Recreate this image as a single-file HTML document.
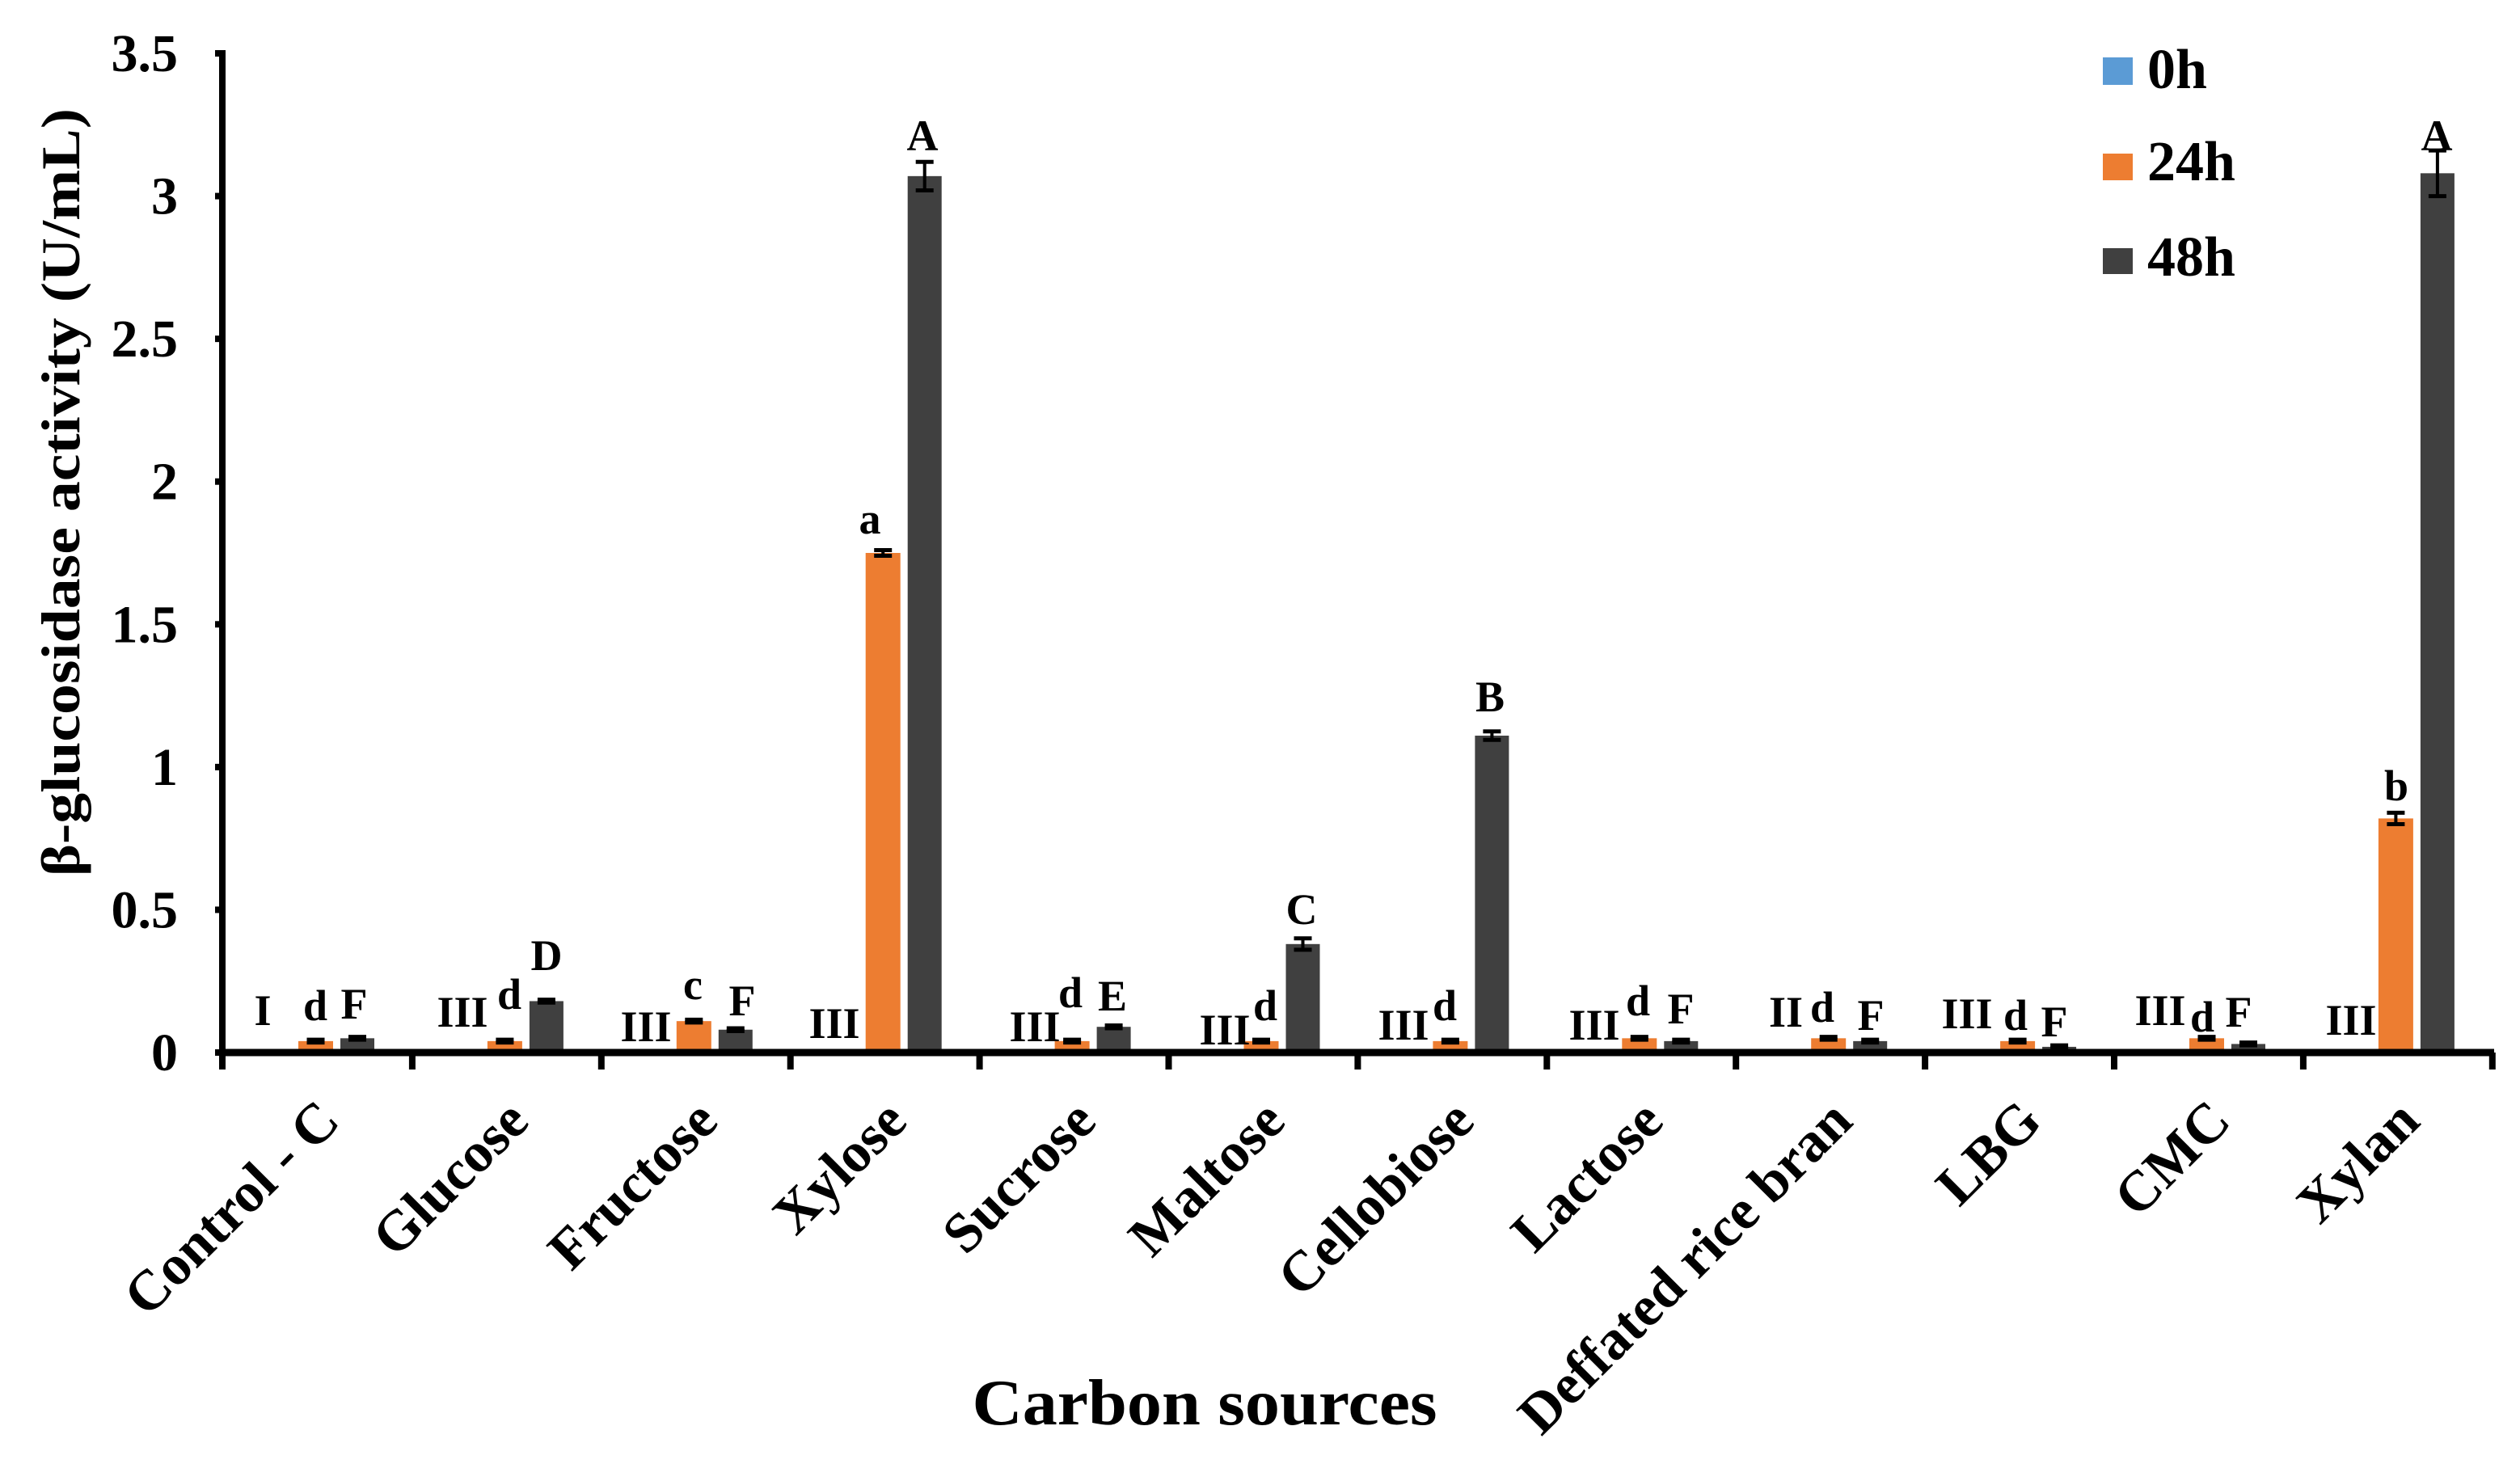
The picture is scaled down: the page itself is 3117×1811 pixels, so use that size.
<!DOCTYPE html>
<html><head><meta charset="utf-8"><style>
html,body{margin:0;padding:0;background:#fff;}
svg{display:block;}
text{font-family:"Liberation Serif",serif;font-weight:bold;fill:#000;}
</style></head><body>
<svg width="3117" height="1811" viewBox="0 0 3117 1811" xmlns="http://www.w3.org/2000/svg">
<g id="bars"></g>
<!-- axes -->
<line x1="275" y1="62" x2="275" y2="1323" stroke="#000" stroke-width="8"/>
<line x1="271" y1="1302" x2="3085" y2="1302" stroke="#000" stroke-width="9"/>
<g stroke="#000" stroke-width="8" id="ticks"></g>
<g font-size="66" text-anchor="end" id="ylabels"></g>
<text x="0" y="0" font-size="68" text-anchor="middle" transform="translate(98,609) rotate(-90)" textLength="950" lengthAdjust="spacingAndGlyphs">β-glucosidase activity (U/mL)</text>
<text x="1490" y="1762" font-size="80" text-anchor="middle" textLength="575" lengthAdjust="spacingAndGlyphs">Carbon sources</text>
<!-- legend -->
<rect x="2601" y="71" width="37" height="34" fill="#5B9BD5"/>
<rect x="2601" y="190" width="37" height="33" fill="#ED7D31"/>
<rect x="2601" y="307" width="37" height="32" fill="#404040"/>
<text x="2656" y="109" font-size="70">0h</text>
<text x="2656" y="223" font-size="70">24h</text>
<text x="2656" y="341" font-size="70">48h</text>
<g id="cats" font-size="70" text-anchor="end"></g>
<g id="lets" font-size="54" text-anchor="middle"></g>
</svg>
<script>
var NS="http://www.w3.org/2000/svg";
function el(p,t,a,txt){var e=document.createElementNS(NS,t);for(var k in a)e.setAttribute(k,a[k]);if(txt!=null)e.textContent=txt;document.getElementById(p).appendChild(e);return e;}
var x0=276,cw=233.9,y0=1302,u=(1302-66)/3.5;
var names=["Control - C","Glucose","Fructose","Xylose","Sucrose","Maltose","Cellobiose","Lactose","Deffated rice bran","LBG","CMC","Xylan"];
var o=[0.04,0.04,0.11,1.75,0.04,0.04,0.04,0.05,0.05,0.04,0.05,0.82];
var d=[0.05,0.18,0.08,3.07,0.09,0.38,1.11,0.04,0.04,0.02,0.03,3.08];
var oe=[0.005,0.005,0.005,0.01,0.005,0.005,0.005,0.005,0.005,0.005,0.005,0.02];
var de=[0.005,0.005,0.005,0.05,0.005,0.02,0.015,0.005,0.005,0.005,0.005,0.08];
for(var i=0;i<12;i++){
 var gx=x0+i*cw;
 el("bars","rect",{x:gx+40,y:y0-2,width:43,height:2,fill:"#5B9BD5"});
 var ox=gx+93,dx=gx+145;
 var oh=o[i]*u,dh=d[i]*u;
 el("bars","rect",{x:ox,y:y0-oh,width:43,height:oh,fill:"#ED7D31"});
 el("bars","rect",{x:dx,y:y0-dh,width:42,height:dh,fill:"#404040"});
 [[ox+21.5,o[i],oe[i]],[dx+21,d[i],de[i]]].forEach(function(b){
  var yt=y0-(b[1]+b[2])*u,yb=y0-(b[1]-b[2])*u;
  el("bars","line",{x1:b[0],y1:yt,x2:b[0],y2:yb,stroke:"#000","stroke-width":4});
  el("bars","line",{x1:b[0]-11,y1:yt,x2:b[0]+11,y2:yt,stroke:"#000","stroke-width":5});
  el("bars","line",{x1:b[0]-11,y1:yb,x2:b[0]+11,y2:yb,stroke:"#000","stroke-width":5});
 });
 el("ticks","line",{x1:x0+(i+1)*cw,y1:1302,x2:x0+(i+1)*cw,y2:1323});
 var cx=gx+cw/2+30;
 el("cats","text",{x:0,y:0,transform:"translate("+cx+",1390) rotate(-45)"},names[i]);
}
for(var v=0;v<=7;v++){
 var val=v*0.5,yy=y0-val*u;
 el("ticks","line",{x1:266,y1:yy,x2:275,y2:yy});
 el("ylabels","text",{x:220,y:yy+22},(val===0?"0":(val%1===0?String(val):val.toFixed(1))));
}
var L=[["I",325,1268],["d",390,1262],["F",438,1260],
["III",572,1270],["d",630,1248],["D",676,1200],
["III",799,1288],["c",857,1236],["F",918,1256],
["III",1032,1284],["a",1076,660],["A",1141,186],
["III",1280,1288],["d",1324,1246],["E",1376,1250],
["III",1515,1292],["d",1565,1262],["C",1610,1143],
["III",1736,1286],["d",1787,1262],["B",1843,880],
["III",1972,1286],["d",2026,1256],["F",2079,1266],
["II",2209,1270],["d",2254,1264],["F",2314,1274],
["III",2433,1272],["d",2493,1274],["F",2541,1282],
["III",2672,1268],["d",2724,1276],["F",2769,1270],
["III",2908,1280],["b",2964,990],["A",3014,186]];
L.forEach(function(l){el("lets","text",{x:l[1],y:l[2]},l[0]);});
</script>
</body></html>
